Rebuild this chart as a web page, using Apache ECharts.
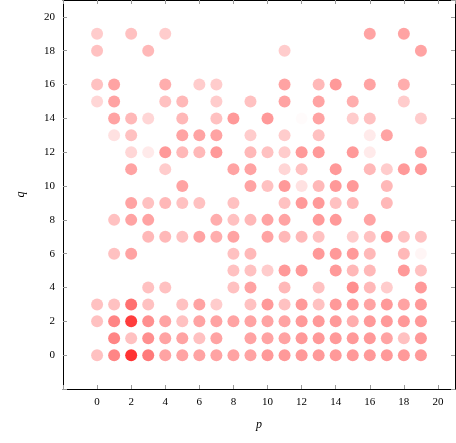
<!DOCTYPE html>
<html>
<head>
<meta charset="utf-8">
<script src="https://cdn.jsdelivr.net/npm/echarts@6/dist/echarts.min.js"></script>
<style>html,body{margin:0;padding:0;background:#fff}#chart{width:456px;height:443px}</style>
</head>
<body>
<div id="chart"></div>
<script>
// opacity of each point, rows indexed by q (0..19), columns by p (0..19); 0 = no point
var rowsByQ = [
    [.3, .6, 1, .65, .45, .45, .45, .45, .45, .45, .5, .5, .5, .5, .5, .5, .5, .5, .5, .5],
    [0, .6, .3, .55, .45, .45, .3, .45, 0, .45, .45, .45, .5, .5, .5, .5, .5, .45, .3, .5],
    [.3, .6, .95, .55, .45, .3, .45, .45, .45, .45, .45, .45, .5, .5, .5, .4, .5, .5, .5, .5],
    [.3, .3, .7, .3, 0, .3, .45, .25, 0, .3, .5, .3, .5, .3, .5, .5, .45, .5, .45, .5],
    [0, 0, 0, .3, .3, 0, 0, 0, .3, .45, 0, .35, 0, .3, 0, .55, .35, .25, 0, .5],
    [0, 0, 0, 0, 0, 0, 0, 0, .3, .3, .25, .5, .5, 0, .5, .35, .35, 0, .5, .3],
    [0, .3, .45, 0, 0, 0, 0, 0, .3, .35, 0, 0, 0, .5, .5, .5, .35, 0, .35, .05],
    [0, 0, 0, .35, .35, .3, .45, .4, .45, 0, .45, .35, .35, .3, 0, .25, .3, .5, .3, .3],
    [0, .3, .45, .45, 0, 0, 0, .4, .3, .35, .45, .45, 0, .5, .5, 0, .45, 0, 0, 0],
    [0, 0, .45, .3, .35, .3, .3, 0, .3, 0, 0, .3, .5, .5, .3, .35, 0, .35, 0, 0],
    [0, 0, 0, 0, 0, .45, 0, 0, 0, .45, .3, .5, .15, .35, .5, .5, 0, .35, 0, 0],
    [0, 0, .45, 0, .25, 0, 0, 0, .45, .45, 0, .2, .3, 0, .5, 0, .35, .25, .5, .5],
    [0, 0, .2, .1, .5, .35, .35, .5, 0, .35, .3, .25, .5, .5, 0, .5, .1, 0, 0, .45],
    [0, .15, .3, 0, 0, .45, .45, .45, 0, .25, 0, .25, 0, .3, 0, 0, .1, .45, 0, 0],
    [0, .45, .35, .2, 0, .35, 0, .3, .5, 0, .5, 0, .02, .45, 0, .25, .3, 0, 0, .25],
    [.2, .45, 0, 0, .3, .35, 0, .25, 0, .3, 0, .45, 0, .45, 0, .4, 0, 0, .25, 0],
    [.3, .45, 0, 0, .4, 0, .25, .25, 0, 0, 0, .45, 0, .35, .5, 0, .45, 0, .4, 0],
    [0, 0, 0, 0, 0, 0, 0, 0, 0, 0, 0, 0, 0, 0, 0, 0, 0, 0, 0, 0],
    [.3, 0, 0, .35, 0, 0, 0, 0, 0, 0, 0, .25, 0, 0, 0, 0, 0, 0, 0, .45],
    [.25, 0, .3, 0, .25, 0, 0, 0, 0, 0, 0, 0, 0, 0, 0, 0, .45, 0, .45, 0]
];
var tickValues = [0, 2, 4, 6, 8, 10, 12, 14, 16, 18, 20];

var points = [];
for (var q = 0; q < rowsByQ.length; q++) {
    for (var p = 0; p < rowsByQ[q].length; p++) {
        var a = rowsByQ[q][p];
        if (a > 0) {
            points.push({ value: [p, q], itemStyle: { color: 'rgba(255,0,0,' + a + ')' } });
        }
    }
}

var chart = echarts.init(document.getElementById('chart'));
var font = 'Liberation Serif';
function tickLabel(v) { return tickValues.indexOf(v) >= 0 ? String(v) : ''; }
function baseAxis(extra) {
    var ax = {
        type: 'value', min: -2, max: 21, interval: 2,
        axisLine: { onZero: false, lineStyle: { color: '#000', width: 1 } },
        axisTick: { inside: true, length: 4, lineStyle: { color: '#999' } },
        splitLine: { show: false },
        axisLabel: { color: '#000', fontFamily: font, fontSize: 11, formatter: tickLabel, showMaxLabel: false }
    };
    for (var k in extra) ax[k] = extra[k];
    return ax;
}

chart.setOption({
    animation: false,
    grid: { left: 63, right: 1, top: 0, bottom: 54 },
    xAxis: [
        baseAxis({ position: 'bottom', name: 'p', nameLocation: 'middle', nameGap: 30,
            nameTextStyle: { fontFamily: font, fontStyle: 'italic', fontSize: 12, color: '#000' } }),
        baseAxis({ position: 'top', axisLabel: { show: false } })
    ],
    yAxis: [
        baseAxis({ position: 'left', name: 'q', nameLocation: 'middle', nameGap: 36,
            nameTextStyle: { fontFamily: font, fontStyle: 'italic', fontSize: 12, color: '#000' } }),
        baseAxis({ position: 'right', axisLabel: { show: false } })
    ],
    series: [{
        type: 'scatter',
        symbolSize: 12,
        data: points
    }]
});
</script>
</body>
</html>
